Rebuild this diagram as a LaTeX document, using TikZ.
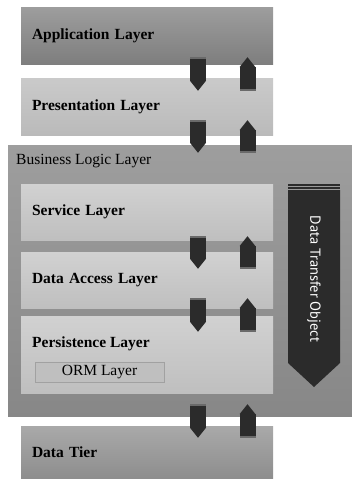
\documentclass[tikz,border=0pt]{standalone}
\usepackage{fontspec}
\setmainfont{Liberation Serif}
\newfontfamily\dtofont{PT Sans}
\usetikzlibrary{arrows.meta,calc}

\definecolor{appgray}{HTML}{8C8C8C}
\definecolor{presgray}{HTML}{C4C4C4}
\definecolor{blgray}{HTML}{939393}
\definecolor{innergray}{HTML}{C9C9C9}
\definecolor{tiergray}{HTML}{9A9A9A}
\definecolor{arrowdark}{HTML}{2B2B2B}
\definecolor{bandgray}{HTML}{6A6A6A}

\tikzset{
  layer/.style={draw=none, minimum width=252pt, minimum height=57pt,
    text width=230pt, inner xsep=11pt, align=left,
    font=\fontsize{15.5}{18}\selectfont\bfseries},
  linkarrow/.style={draw=arrowdark, line width=16pt, line cap=butt,
    -{Triangle[length=10pt, width=16pt, line width=0pt]}},
  linkband/.style={draw=bandgray, line width=16pt, line cap=butt}
}

% one pair of down / up arrows between two layers
\newcommand{\layerlink}[4]{%
  \draw[linkarrow] ($(#1.south -| dnx)+(0,-#3)$) -- ($(#2.north -| dnx)+(0,#4)$);
  \draw[linkband] ($(#1.south -| dnx)+(0,-#3)$) -- ++(0,2);
  \draw[linkarrow] ($(#2.north -| upx)+(0,#4)$) -- ($(#1.south -| upx)+(0,-#3)$);
  \draw[linkband] ($(#2.north -| upx)+(0,#4)$) -- ++(0,-2);
}

\begin{document}
\begin{tikzpicture}[x=1pt,y=-1pt]
  \useasboundingbox (0,0) rectangle (352,479);
  \coordinate (dnx) at (198,0);
  \coordinate (upx) at (247.5,0);

  \path (147,35.5) node[layer, top color=appgray!85!white, bottom color=appgray!90!black] (app) {Application Layer};
  \path (147,106.5) node[layer, top color=presgray!90!white, bottom color=presgray!95!black] (pres) {Presentation Layer};

  % business logic container
  \path (180,280.5) node[minimum width=344pt, minimum height=271pt,
    top color=blgray!90!white, bottom color=blgray!92!black] (blb) {};
  \path (16,161) node[anchor=west, inner sep=0pt, font=\fontsize{15.5}{18}\selectfont] (blbtitle) {Business Logic Layer};

  \path (147,212) node[layer, minimum height=56pt, top color=innergray!85!white, bottom color=innergray!95!black] (svc) {Service Layer};
  \path (147,280) node[layer, minimum height=56pt, top color=innergray!85!white, bottom color=innergray!95!black] (dal) {Data Access Layer};
  \path (147,354.5) node[layer, minimum height=77pt, top color=innergray!85!white, bottom color=innergray!95!black] (per) {};
  \path (32,344) node[anchor=west, inner sep=0pt, font=\fontsize{15.5}{18}\selectfont\bfseries] (pertitle) {Persistence Layer};
  \path (99.5,372) node[draw=innergray!80!black, line width=0.6pt, fill=innergray!95!black,
    minimum width=129pt, minimum height=20pt, inner sep=0pt,
    font=\fontsize{15.5}{18}\selectfont] (orm) {ORM Layer};

  % data transfer object
  \fill[arrowdark] (288,190) -- (340,190) -- (340,363) -- (314,387) -- (288,363) -- cycle;
  \draw[arrowdark, line width=2pt] (288,184.5) -- (340,184.5);
  \draw[arrowdark, line width=2pt] (288,187.5) -- (340,187.5);
  \path (314,279) node[rotate=-90, text=white, font=\dtofont\fontsize{14.5}{17}\selectfont] (dto) {Data Transfer Object};

  \path (147,452) node[layer, minimum height=52pt, top color=tiergray!85!white, bottom color=tiergray!92!black] (tier) {Data Tier};

  \layerlink{app}{pres}{7}{13}
  \layerlink{pres}{blb}{15}{8}
  \layerlink{svc}{dal}{4}{17}
  \layerlink{dal}{per}{10}{16}
  \layerlink{blb}{tier}{12}{12}
\end{tikzpicture}
\end{document}
